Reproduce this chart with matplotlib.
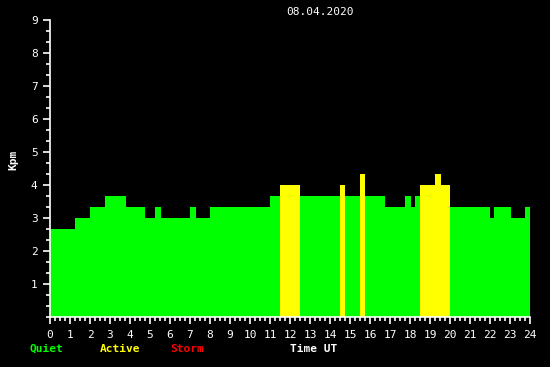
import matplotlib
matplotlib.use("Agg")
import matplotlib.pyplot as plt
import numpy as np

# Segment start times (hours UT) and Kpm values
seg_start = [0.0, 1.25, 2.0, 2.75, 3.8, 4.75, 5.25, 5.55, 7.0, 7.3, 8.0, 11.0,
             11.5, 12.5, 14.5, 14.75, 15.5, 15.75, 16.75, 17.75, 18.05, 18.25,
             18.5, 19.25, 19.55, 20.0, 22.0, 22.2, 23.05, 23.75]
seg_end_last = 24.05
kpm = [2.67, 3.0, 3.33, 3.67, 3.33, 3.0, 3.33, 3.0, 3.33, 3.0, 3.33, 3.67,
       4.0, 3.67, 4.0, 3.67, 4.33, 3.67, 3.33, 3.67, 3.33, 3.67,
       4.0, 4.33, 4.0, 3.33, 3.0, 3.33, 3.0, 3.33]
date_label = "08.04.2020"
x_ticks = list(range(0, 25))
y_ticks = list(range(1, 10))

GREEN = "#00ff00"
YELLOW = "#ffff00"
RED = "#ff0000"

edges = seg_start + [seg_end_last]
widths = np.diff(edges)
colors = [RED if v >= 5 else (YELLOW if v >= 4 else GREEN) for v in kpm]

fig = plt.figure(figsize=(5.5, 3.67), dpi=100, facecolor="black")
ax = fig.add_axes([50/550, 50/367, 480/550, 297/367], facecolor="black")
ax.bar(seg_start, kpm, width=widths, align="edge", color=colors, linewidth=0)

ax.set_xlim(0, 24)
ax.set_ylim(0, 9)
for s in ["top", "right"]:
    ax.spines[s].set_visible(False)
for s in ["left", "bottom"]:
    ax.spines[s].set_color("white")
    ax.spines[s].set_linewidth(1.2)

mono = "DejaVu Sans Mono"
ax.set_xticks(x_ticks)
ax.set_xticklabels([str(t) for t in x_ticks], family=mono, fontsize=8, color="white")
ax.set_xticks(np.arange(0, 24.01, 0.25), minor=True)
ax.set_yticks(y_ticks)
ax.set_yticklabels([str(t) for t in y_ticks], family=mono, fontsize=8, color="white")
ax.set_yticks(np.arange(0, 9.01, 1/3), minor=True)
ax.tick_params(axis="both", which="major", length=5, width=1.2, color="white", pad=4)
ax.tick_params(axis="both", which="minor", length=3, width=1.2, color="white")

fig.text(13/550, 1 - 160/367, "Kpm", rotation=90, ha="center", va="center",
         family=mono, fontsize=8, fontweight="bold", color="white")
fig.text(320/550, 1 - 12/367, date_label, ha="center", va="center",
         family=mono, fontsize=8, color="white")
fig.text(30/550, 1 - 349/367, "Quiet", ha="left", va="center",
         family=mono, fontsize=8, fontweight="bold", color=GREEN)
fig.text(100/550, 1 - 349/367, "Active", ha="left", va="center",
         family=mono, fontsize=8, fontweight="bold", color=YELLOW)
fig.text(170/550, 1 - 349/367, "Storm", ha="left", va="center",
         family=mono, fontsize=8, fontweight="bold", color=RED)
fig.text(290/550, 1 - 349/367, "Time UT", ha="left", va="center",
         family=mono, fontsize=8, fontweight="bold", color="white")

fig.savefig("out.png", dpi=100, facecolor="black")
